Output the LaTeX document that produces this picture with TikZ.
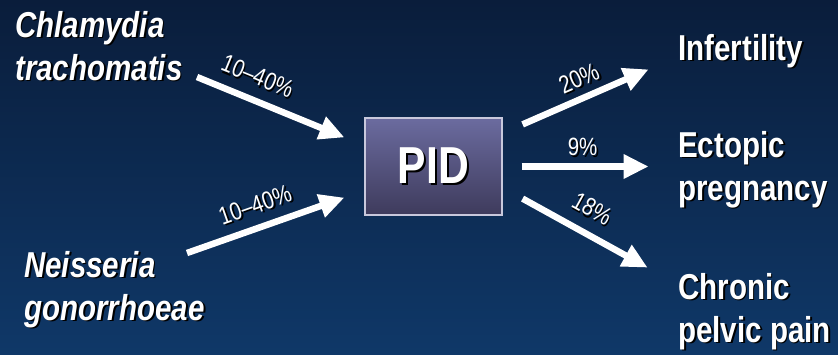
\documentclass[tikz,border=0pt]{standalone}
\usepackage{fontspec}
\setmainfont{Liberation Sans}
\newfontfamily\narrowbold[FakeStretch=0.82,BoldFont={Liberation Sans Bold},ItalicFont={Liberation Sans Bold Italic}]{Liberation Sans Bold}
\newfontfamily\narrowreg[FakeStretch=0.82]{Liberation Sans}
\usetikzlibrary{arrows.meta,calc}
\definecolor{bgtop}{HTML}{0A1D3B}
\definecolor{bgbot}{HTML}{0F3868}
\definecolor{pidtop}{HTML}{6B6B9F}
\definecolor{pidbot}{HTML}{3E3B5C}
\definecolor{pidborder}{HTML}{C8C8DC}
\newcommand\shd[1]{\leavevmode\rlap{\kern1.8pt\raisebox{-1.8pt}{\color{black}#1}}#1}
\begin{document}
\begin{tikzpicture}[x=1pt,y=-1pt,
  every node/.style={text=white, inner sep=0pt},
  big/.style={font=\narrowbold\fontsize{36}{43}\selectfont, align=left, anchor=base west},
  bigit/.style={big, font=\narrowbold\fontsize{36}{43}\selectfont\itshape},
  pct/.style={font=\narrowreg\fontsize{25}{28}\selectfont, sloped, inner sep=0pt},
  flow/.style={draw=white, line width=6.5pt, -{Triangle[length=25pt,width=23pt]}},
  pidbox/.style={draw=pidborder, line width=1.2pt, top color=pidtop, bottom color=pidbot,
    minimum width=137pt, minimum height=97pt, font=\narrowbold\fontsize{52}{60}\selectfont}
]
\shade[top color=bgtop, bottom color=bgbot] (0,0) rectangle (838,354);
\useasboundingbox (0,0) rectangle (838,354);

% multi-line nodes: base anchor = baseline of the last line
\node[bigit] (chl) at (15,80) {\shd{Chlamydia}\\\shd{trachomatis}};
\node[bigit] (neis) at (24,320) {\shd{Neisseria}\\\shd{gonorrhoeae}};
\node[big] (inf) at (678,60) {\shd{Infertility}};
\node[big] (ect) at (678,200) {\shd{Ectopic}\\\shd{pregnancy}};
\node[big] (chr) at (678,342) {\shd{Chronic}\\\shd{pelvic pain}};
\node[pidbox] (pid) at (433.5,166.5) {\shd{PID}};

\coordinate (s1) at (197,77);
\coordinate (s2) at (187,253);

\draw[flow] (s1) -- ($(pid.north west)+(-20,20)$)
  node[pct, pos=0.35, above=10pt] {\shd{10–40\%}};
\draw[flow] (s2) -- ($(pid.south west)+(-20,-18)$)
  node[pct, pos=0.48, above=9pt] {\shd{10–40\%}};

\draw[flow] ($(pid.north east)+(20,7)$) -- ($(pid.north east)+(146,-48)$)
  node[pct, pos=0.51, above=6pt] {\shd{20\%}};
\draw[flow] ($(pid.east)+(19,0)$) -- ($(pid.east)+(146,0)$)
  node[pct, pos=0.48, above=6pt] {\shd{9\%}};
\draw[flow] ($(pid.south east)+(20,-17)$) -- ($(pid.south east)+(145,52)$)
  node[pct, pos=0.46, above=11pt] {\shd{18\%}};
\end{tikzpicture}
\end{document}
